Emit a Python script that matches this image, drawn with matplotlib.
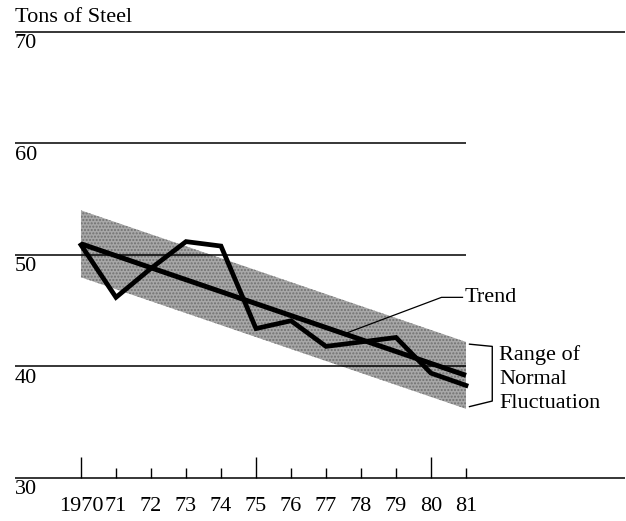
import matplotlib.pyplot as plt

plt.rcParams['font.family'] = ['Liberation Serif', 'DejaVu Serif']

# Data
years = [1970, 1971, 1972, 1973, 1974, 1975, 1976, 1977, 1978, 1979, 1980, 1981]
tons = [50.9, 46.2, 48.8, 51.2, 50.8, 43.4, 44.1, 41.8, 42.2, 42.6, 39.4, 38.3]
trend_years = [1970, 1981]
trend_tons = [51.0, 39.2]
band_upper = [54.0, 42.2]
band_lower = [48.0, 36.2]
grid_levels = [70, 60, 50, 40, 30]
year_labels = ['1970', '71', '72', '73', '74', '75', '76', '77', '78', '79', '80', '81']
major_years = [1970, 1975, 1980]

FS = 16

fig = plt.figure(figsize=(6.26, 5.21), dpi=100)
ax = fig.add_axes([0, 0, 1, 1])
ax.set_xlim(1967.686, 1985.571)
ax.set_ylim(26.14, 72.87)
ax.axis('off')

# grid lines: top and bottom run full width, middle ones stop at 1981
x_left = 1968.11
for lev in grid_levels:
    x_right = 1985.54 if lev in (70, 30) else 1981.0
    ax.hlines(lev, x_left, x_right, color='black', lw=1.1, zorder=2)
    ax.text(x_left, lev - 0.2, str(lev), ha='left', va='top', fontsize=FS)

# year ticks along the 30 line
for yr, lab in zip(years, year_labels):
    h = 1.9 if yr in major_years else 0.9
    ax.vlines(yr, 30, 30 + h, color='black', lw=1.0)
    ax.text(yr, 27.45, lab, ha='center', va='center', fontsize=FS)

# range of normal fluctuation band
ax.fill_between(trend_years, band_lower, band_upper, color='#a8a8a8',
                hatch='.....', edgecolor='#707070', linewidth=0, zorder=1)

ax.plot(trend_years, trend_tons, color='black', lw=3.6, solid_capstyle='butt', zorder=3)
ax.plot(years, tons, color='black', lw=3.4, solid_joinstyle='miter', zorder=3)

# Trend leader
ax.plot([1977.5, 1980.3, 1980.9], [42.9, 46.2, 46.2], color='black', lw=0.9)
ax.text(1980.95, 46.2, 'Trend', ha='left', va='center', fontsize=FS)

# bracket for range
ax.plot([1981.1, 1981.75, 1981.75, 1981.1], [42.0, 41.8, 36.9, 36.4], color='black', lw=1.0)
ax.text(1981.95, 41.0, 'Range of', ha='left', va='center', fontsize=FS)
ax.text(1981.95, 38.85, 'Normal', ha='left', va='center', fontsize=FS)
ax.text(1981.95, 36.7, 'Fluctuation', ha='left', va='center', fontsize=FS)

ax.text(x_left, 70.9, 'Tons of Steel', ha='left', va='baseline', fontsize=FS)

plt.savefig('out.png', dpi=100)
plt.close()
